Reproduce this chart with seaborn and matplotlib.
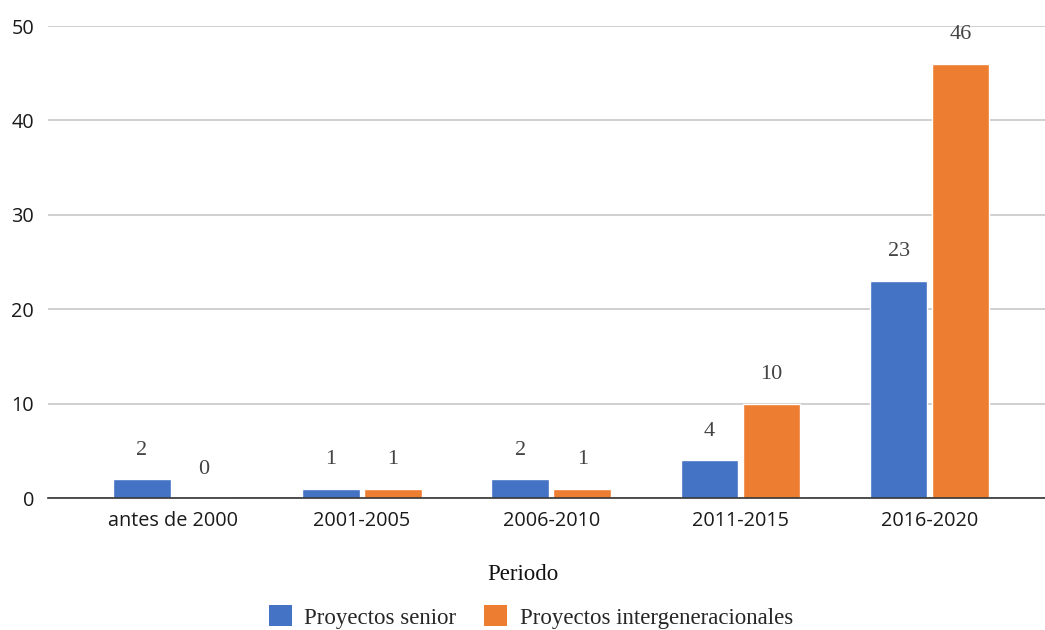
"""Bar chart: senior vs intergenerational projects per period."""

import matplotlib

matplotlib.use("Agg")
import matplotlib.pyplot as plt
import pandas as pd
import seaborn as sns
from matplotlib.patches import Patch

periods = ["antes de 2000", "2001-2005", "2006-2010", "2011-2015", "2016-2020"]
senior = [2, 1, 2, 4, 23]
intergen = [0, 1, 1, 10, 46]
series_names = ["Proyectos senior", "Proyectos intergeneracionales"]
colors = ["#4472C4", "#ED7D31"]

df = pd.DataFrame({
    "Periodo": periods * 2,
    "Serie": [series_names[0]] * len(periods) + [series_names[1]] * len(periods),
    "Valor": senior + intergen,
})

sns.set_theme(style="white")
serif = ["Liberation Serif", "DejaVu Serif"]
sans = ["Open Sans", "DejaVu Sans"]

fig = plt.figure(figsize=(10.45, 6.3), dpi=100)
ax = fig.add_axes([0.046, 0.2095, 0.954, 0.7492])

sns.barplot(
    data=df,
    x="Periodo",
    y="Valor",
    hue="Serie",
    order=periods,
    hue_order=series_names,
    palette=colors,
    width=0.656,
    gap=0.07,
    saturation=1,
    legend=False,
    ax=ax,
)

ax.set_ylim(0, 50)
ax.set_xlim(-0.66, 4.61)
ax.set_yticks([0, 10, 20, 30, 40, 50])
ax.yaxis.grid(True, color="#cccccc", linewidth=1.3)
ax.set_axisbelow(True)
for side in ["top", "right", "left"]:
    ax.spines[side].set_visible(False)
ax.spines["bottom"].set_color("#333333")
ax.spines["bottom"].set_linewidth(1.2)
ax.tick_params(axis="both", length=0, labelsize=14.3, colors="#1a1a1a")
ax.tick_params(axis="y", pad=10)
ax.tick_params(axis="x", pad=9)
for lbl in ax.get_xticklabels() + ax.get_yticklabels():
    lbl.set_family(sans)

ax.set_ylabel("")
ax.set_xlabel("")
fig.text(0.5, 1 - 575 / 630, "Periodo", family=serif, fontsize=16.5,
         color="#111111", ha="center", va="center")

for container in ax.containers:
    for bar in container:
        h = bar.get_height()
        ax.annotate(
            f"{h:.0f}",
            (bar.get_x() + bar.get_width() / 2, h),
            xytext=(0, 14),
            textcoords="offset points",
            ha="center",
            va="bottom",
            family=serif,
            fontsize=16,
            color="#444444",
        )

handles = [Patch(facecolor=c, edgecolor="none") for c in colors]
fig.legend(
    handles,
    series_names,
    loc="center",
    bbox_to_anchor=(0.508, 13 / 630),
    ncol=2,
    frameon=False,
    prop={"family": serif, "size": 16.5},
    handlelength=1.0,
    handleheight=1.0,
    handletextpad=0.55,
    columnspacing=1.2,
    borderpad=0,
    borderaxespad=0,
)

fig.savefig("out.png", dpi=100)
plt.close(fig)
